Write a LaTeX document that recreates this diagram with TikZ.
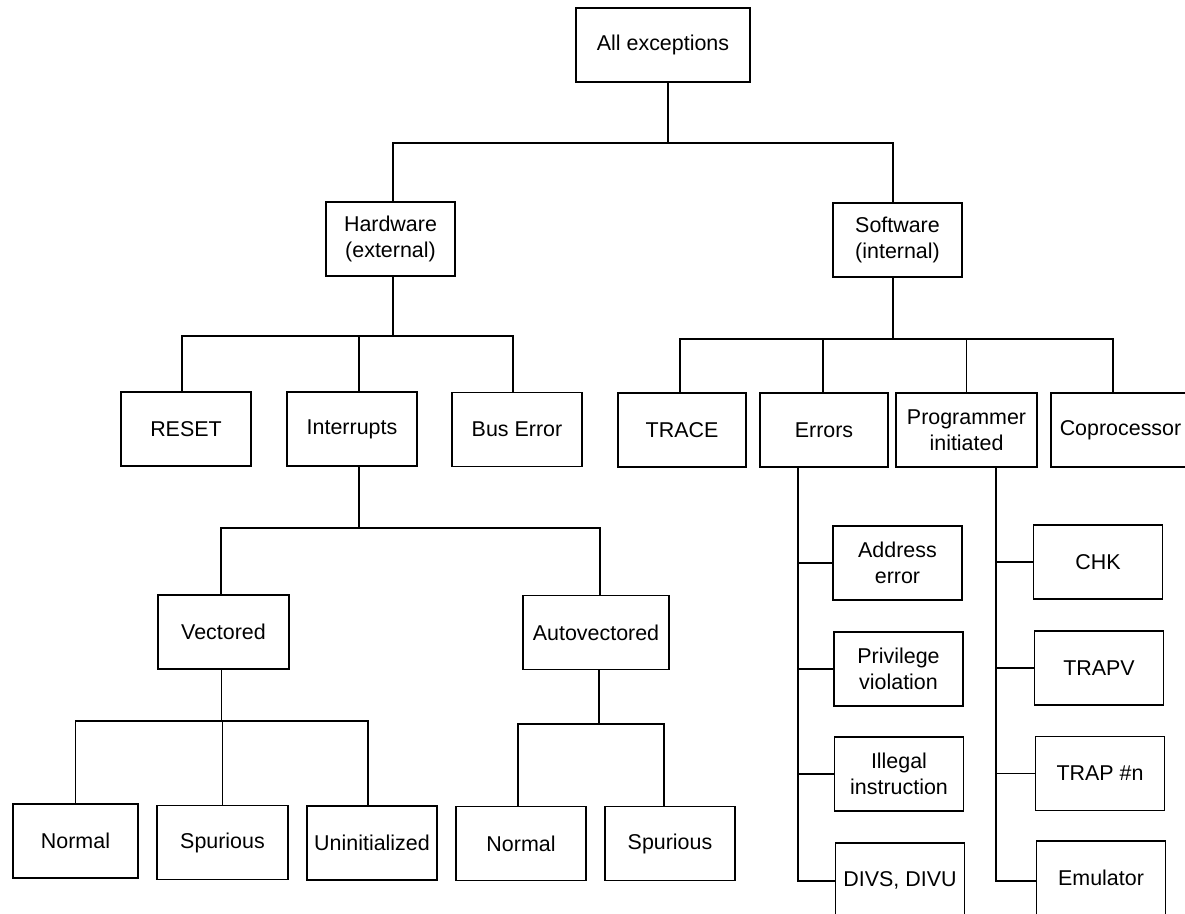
\documentclass[tikz,border=0pt]{standalone}
\usepackage{fontspec}
\setmainfont{Liberation Sans}
\begin{document}
\begin{tikzpicture}[x=0.02cm, y=-0.02cm, line width=1.1pt,
  box/.style={draw, inner sep=0pt, align=center,
    minimum width=#1*0.02cm, minimum height=74*0.02cm,
    font=\fontsize{12.2pt}{14.5pt}\selectfont},
  box/.default=129]
\def\u{0.02cm}
\clip (0,0) rectangle (1185,913);
\fill[white] (0,0) rectangle (1185,913);

% root and first level
\node[box=174] (all) at (663,45) {All exceptions};
\node[box] (hw) at (390.5,239) {Hardware\\(external)};
\node[box] (sw) at (897.5,240) {Software\\(internal)};

% hardware children
\node[box=130] (rst)  at (186,429)   {RESET};
\node[box=130] (intr) at (352,429)   {Interrupts};
\node[box=130] (buse) at (517,429.5) {Bus Error};

% software children
\node[box=128] (trace) at (682,430)    {TRACE};
\node[box=128] (err)   at (824,430)    {Errors};
\node[box=141] (prog)  at (966.5,430)  {Programmer\\initiated};
\node[box=139] (cop)   at (1120.5,430) {Coprocessor};

% interrupt kinds
\node[box=131] (vec)  at (223.5,632) {Vectored};
\node[box=146] (auto) at (596,632.5) {Autovectored};

% leaves of the interrupt branch
\node[box=125] (n1) at (75.5,841)  {Normal};
\node[box=131] (s1) at (222.5,842.5) {Spurious};
\node[box=130] (un) at (372,843)    {Uninitialized};
\node[box=130] (n2) at (521,843.5)  {Normal};
\node[box=130] (s2) at (670,843.5)  {Spurious};

% error kinds
\node[box] (addr) at (897.5,563) {Address\\error};
\node[box] (priv) at (898.5,669) {Privilege\\violation};
\node[box] (ill)  at (899,774)   {Illegal\\instruction};
\node[box] (divs) at (900,880)   {DIVS, DIVU};

% programmer-initiated kinds
\node[box] (chk)   at (1098,562)   {CHK};
\node[box] (trapv) at (1099,668)   {TRAPV};
\node[box] (trapn) at (1100,773.5) {TRAP \#n};
\node[box] (emu)   at (1101,878)   {Emulator};

% bus levels and spines
\coordinate (topbus) at (0,143);
\coordinate (hwbus)  at (0,336);
\coordinate (swbus)  at (0,339);
\coordinate (intbus) at (0,528);
\coordinate (vecbus) at (0,721);
\coordinate (autbus) at (0,724);
\coordinate (espine) at (798,881);
\coordinate (pspine) at (996,881);

% root to first level
\draw ([xshift=5*\u]all.south) -- ([xshift=5*\u]all.south |- topbus);
\draw ([xshift=2.5*\u]hw.north) |- ([xshift=-4.5*\u]sw.north |- topbus) -- ([xshift=-4.5*\u]sw.north);

% hardware branch
\draw ([xshift=2.5*\u]hw.south) -- ([xshift=2.5*\u]hw.south |- hwbus);
\draw ([xshift=-4*\u]rst.north) |- ([xshift=-4*\u]buse.north |- hwbus) -- ([xshift=-4*\u]buse.north);
\draw ([xshift=7*\u]intr.north) -- ([xshift=7*\u]intr.north |- hwbus);

% software branch
\draw ([xshift=-4.5*\u]sw.south) -- ([xshift=-4.5*\u]sw.south |- swbus);
\draw ([xshift=-2*\u]trace.north) |- ([xshift=-7.5*\u]cop.north |- swbus) -- ([xshift=-7.5*\u]cop.north);
\draw ([xshift=-1*\u]err.north) -- ([xshift=-1*\u]err.north |- swbus);
\draw (prog.north) -- (prog.north |- swbus);

% interrupts branch
\draw ([xshift=7*\u]intr.south) -- ([xshift=7*\u]intr.south |- intbus);
\draw ([xshift=-2.5*\u]vec.north) |- ([xshift=4*\u]auto.north |- intbus) -- ([xshift=4*\u]auto.north);

% vectored leaves
\draw ([xshift=-2*\u]vec.south) -- ([xshift=-2*\u]vec.south |- vecbus);
\draw (n1.north) |- ([xshift=-4*\u]un.north |- vecbus) -- ([xshift=-4*\u]un.north);
\draw (s1.north) -- (s1.north |- vecbus);

% autovectored leaves
\draw ([xshift=3*\u]auto.south) -- ([xshift=3*\u]auto.south |- autbus);
\draw ([xshift=-3*\u]n2.north) |- ([xshift=-6*\u]s2.north |- autbus) -- ([xshift=-6*\u]s2.north);

% error spine
\draw (err.south -| espine) -- (espine) -- (divs.west |- espine);
\draw (addr.west) -- (addr.west -| espine);
\draw (priv.west) -- (priv.west -| espine);
\draw (ill.west)  -- (ill.west -| espine);

% programmer-initiated spine
\draw (prog.south -| pspine) -- (pspine) -- (emu.west |- pspine);
\draw (chk.west)   -- (chk.west -| pspine);
\draw (trapv.west) -- (trapv.west -| pspine);
\draw (trapn.west) -- (trapn.west -| pspine);
\end{tikzpicture}
\end{document}
